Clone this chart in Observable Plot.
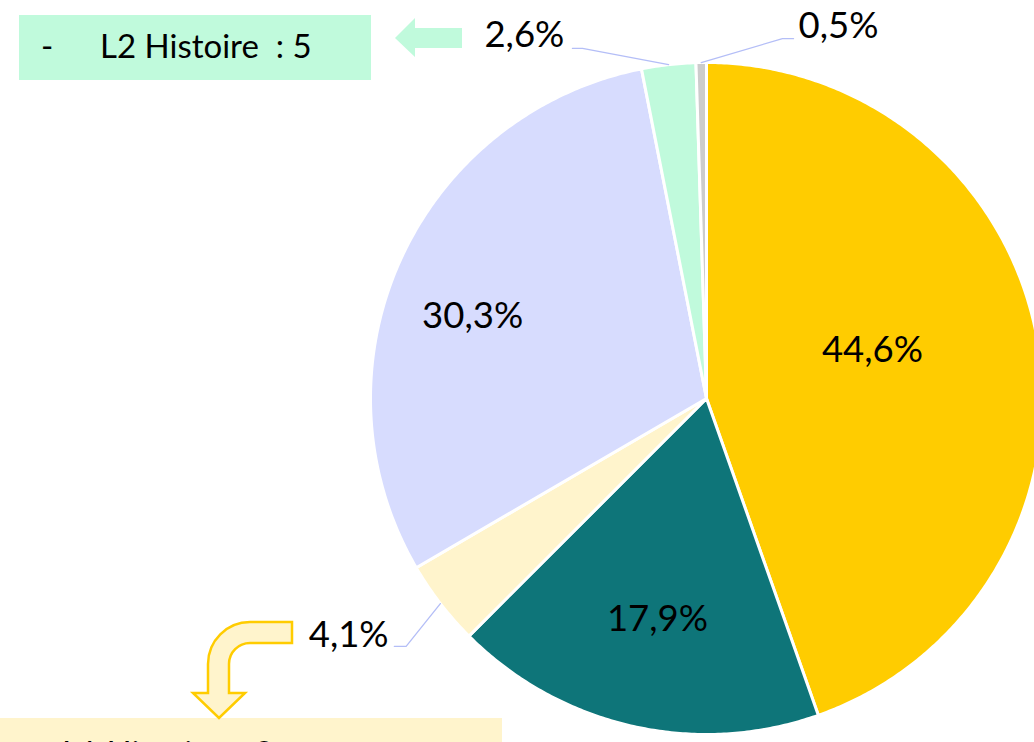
<!DOCTYPE html>
<html>
<head>
<meta charset="utf-8">
<script src="https://cdn.jsdelivr.net/npm/d3@7"></script>
<script src="https://cdn.jsdelivr.net/npm/@observablehq/plot@0.6"></script>
<style>
  html, body { margin: 0; padding: 0; background: #fff; }
  #wrap { position: relative; width: 1034px; height: 742px; overflow: hidden; font-family: Lato, "Open Sans", sans-serif; }
  #chart { position: absolute; left: 0; top: 0; }
  .box { position: absolute; color: #000; font-size: 33px; white-space: pre; }
  #overlay { position: absolute; left: 0; top: 0; }
</style>
</head>
<body>
<div id="wrap">
  <div id="chart"></div>
  <div class="box" style="left:19px;top:15px;width:352px;height:65px;background:#C0FADC;">
    <span style="position:absolute;left:22px;top:10px;">-</span><span style="position:absolute;left:81px;top:10px;">L2 Histoire  : 5</span>
  </div>
  <div class="box" style="left:0px;top:718px;width:502px;height:60px;background:#FFF4CC;">
    <span style="position:absolute;left:22px;top:14px;">-</span><span style="position:absolute;left:62px;top:14px;">L1 Histoire  : 8</span>
  </div>
  <svg id="overlay" width="1034" height="742">
    <polygon points="462,28 415,28 415,18 395,38 415,57 415,48 462,48" fill="#C0FADC"></polygon>
    <path d="M292,622 L250,622 A42,42 0 0 0 208,664 L208,693 L193,693 L219,718 L245,693 L229,693 L229,664 A21,21 0 0 1 250,643 L292,643 Z"
          fill="#FFF4CC" stroke="#FFCC00" stroke-width="2.5" stroke-linejoin="miter"></path>
  </svg>
</div>
<script>
// ---- data ----
const categories = ["S1", "S2", "L1 Histoire", "S4", "L2 Histoire", "S6"];
const percents = [44.6, 17.9, 4.1, 30.3, 2.6, 0.5];
const labels = ["44,6%", "17,9%", "4,1%", "30,3%", "2,6%", "0,5%"];
const colors = ["#FFCC00", "#0E7579", "#FFF4CC", "#D7DCFE", "#C0FADC", "#CCCCCC"];

// ---- layout (unit-circle coordinates, y up) ----
const labelAt = {
  "S1": [0.494, 0.144],
  "S2": [-0.146, -0.658],
  "L1 Histoire": [-1.065, -0.705],
  "S4": [-0.696, 0.244],
  "L2 Histoire": [-0.542, 1.080],
  "S6": [0.393, 1.108]
};
const leaderPts = {
  "L1 Histoire": [[-0.894, -0.738], [-0.929, -0.738]],
  "L2 Histoire": [[-0.369, 1.042], [-0.399, 1.042]],
  "S6": [[0.226, 1.071], [0.259, 1.071]]
};

const total = d3.sum(percents);
let acc = 0;
const slices = categories.map((c, i) => {
  const a0 = acc / total * 2 * Math.PI;
  acc += percents[i];
  const a1 = acc / total * 2 * Math.PI;
  return {key: c, a0, a1, mid: (a0 + a1) / 2, label: labels[i], color: colors[i]};
});

// polygon points for each slice
const poly = [];
for (const s of slices) {
  poly.push({key: s.key, x: 0, y: 0});
  const n = Math.max(2, Math.ceil((s.a1 - s.a0) / (Math.PI / 360)));
  for (let k = 0; k <= n; k++) {
    const a = s.a0 + (s.a1 - s.a0) * k / n;
    poly.push({key: s.key, x: Math.sin(a), y: Math.cos(a)});
  }
  poly.push({key: s.key, x: 0, y: 0});
}

// leader lines
const leaders = [];
for (const s of slices) {
  if (!leaderPts[s.key]) continue;
  leaders.push({key: s.key, x: Math.sin(s.mid), y: Math.cos(s.mid)});
  for (const p of leaderPts[s.key]) leaders.push({key: s.key, x: p[0], y: p[1]});
}

const textData = slices.map(s => ({key: s.key, label: s.label, x: labelAt[s.key][0], y: labelAt[s.key][1]}));

const cx = 706, cy = 398, r = 336;
const chart = Plot.plot({
  width: 1034,
  height: 742,
  margin: 0,
  x: {domain: [-1, 1], range: [cx - r, cx + r], axis: null},
  y: {domain: [-1, 1], range: [cy + r, cy - r], axis: null},
  color: {domain: categories, range: colors},
  style: {background: "transparent", overflow: "visible"},
  marks: [
    Plot.line(poly, {x: "x", y: "y", z: "key", fill: "key", stroke: "white", strokeWidth: 3, strokeLinejoin: "round", curve: "linear"}),
    Plot.line(leaders, {x: "x", y: "y", z: "key", stroke: "#B4BEF7", strokeWidth: 1.3}),
    Plot.text(textData, {x: "x", y: "y", text: "label", fontSize: 36.5, fill: "black", fontFamily: "Lato, 'Open Sans', sans-serif", textAnchor: "middle"})
  ]
});
document.getElementById("chart").appendChild(chart);
</script>
</body>
</html>
